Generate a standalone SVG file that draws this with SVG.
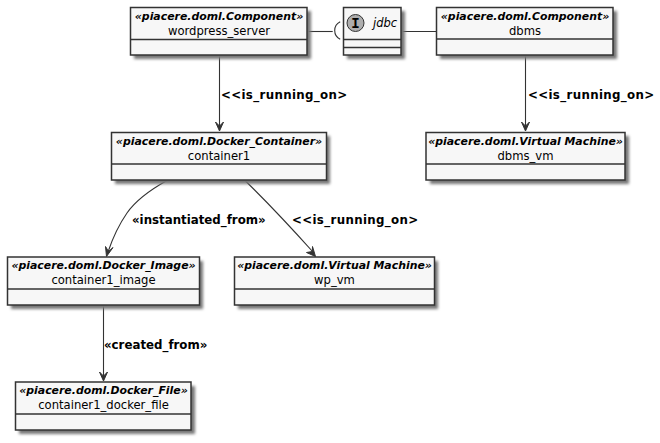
<svg xmlns="http://www.w3.org/2000/svg" width="660" height="443" viewBox="0 0 660 443">
<style>
text{font-family:"DejaVu Sans",sans-serif;fill:#000;text-anchor:middle}
.s{font-size:10.900px;font-weight:bold;font-style:italic}
.n{font-size:11.600px}
.l{font-size:11.800px;font-weight:bold;text-anchor:start}
.r{letter-spacing:.35px}
.b{fill:#f7f7f7;stroke:#333;stroke-width:1.5}
.sh{fill:#777;filter:url(#blur)}
.d{stroke:#333;stroke-width:1.5;fill:none}
.c{stroke:#333;stroke-width:1.100;fill:none}
.a{fill:#333;stroke:#333;stroke-width:1}
</style>
<defs><filter id="blur" x="-10%" y="-20%" width="120%" height="140%"><feGaussianBlur stdDeviation="1.6"/></filter></defs>
<rect width="660" height="443" fill="#fff"/>
<g id="connectors">
<path class="c" d="M307 31.500H332.700"/>
<path class="c" d="M340.200 21.700A9.800 9.800 0 0 0 340.200 39.300"/>
<path class="c" d="M401 31.500H436"/>
<path class="c" d="M219.500 55V127"/><path class="a" d="M219.500 131L215.500 122L219.500 126L223.500 122Z"/>
<path class="c" d="M525.500 55V127"/><path class="a" d="M525.500 131L521.500 122L525.500 126L529.500 122Z"/>
<path class="c" d="M167 180.500C150 190 136 200 127 213C118 226 112 240 108 252"/><path class="a" d="M106.500 256.500L105.500 246.500L108.500 251.500L113 247.500Z"/>
<path class="c" d="M245 180.500C265 200 295 232 313 252"/><path class="a" d="M315.500 256.500L306.500 252.500L312.300 251.500L312.500 246.500Z"/>
<path class="c" d="M103.500 305V377"/><path class="a" d="M103.500 381L99.500 372L103.500 376L107.500 372Z"/>
</g>
<g id="wordpress_server"><rect class="sh" x="134" y="11" width="177" height="48"/><rect class="b" x="130.500" y="7.500" width="176.500" height="47.500"/><path class="d" d="M130.500 39.500H307"/><text class="s" x="219" y="19.500">«piacere.doml.Component»</text><text class="n" x="219" y="34.500">wordpress_server</text></g>
<g id="jdbc"><rect class="sh" x="347" y="11" width="58" height="48"/><rect class="b" x="343.500" y="7.500" width="57.500" height="47.500"/><path class="d" d="M343.500 39.500H401M343.500 47.500H401"/><circle cx="355.500" cy="23" r="8.500" fill="#adadad" stroke="#333" stroke-width="1"/><text x="355.500" y="27.500" style="font-family:'Liberation Mono',monospace;font-size:14px;font-weight:bold">I</text><text x="385" y="27" style="font-size:11.500px;font-style:italic">jdbc</text></g>
<g id="dbms"><rect class="sh" x="440" y="11" width="177" height="48"/><rect class="b" x="436.500" y="7.500" width="176.500" height="47.500"/><path class="d" d="M436.500 39H613"/><text class="s" x="525" y="19.500">«piacere.doml.Component»</text><text class="n" x="525" y="34.500">dbms</text></g>
<g id="dbms_vm"><rect class="sh" x="430" y="136" width="199" height="48"/><rect class="b" x="426" y="132.500" width="199" height="47.500"/><path class="d" d="M426 164H625"/><text class="s" x="525.500" y="144.500">«piacere.doml.Virtual Machine»</text><text class="n" x="525.500" y="159.500">dbms_vm</text></g>
<g id="container1"><rect class="sh" x="115" y="136" width="215" height="48"/><rect class="b" x="111.500" y="132.500" width="215" height="47.500"/><path class="d" d="M111.500 164H326.500"/><text class="s" x="219" y="144.500">«piacere.doml.Docker_Container»</text><text class="n" x="219" y="159.500">container1</text></g>
<g id="container1_image"><rect class="sh" x="11" y="261" width="192" height="48"/><rect class="b" x="7.500" y="257" width="192" height="48"/><path class="d" d="M7.500 289H199.500"/><text class="s" x="103.500" y="269">«piacere.doml.Docker_Image»</text><text class="n" x="103.500" y="284">container1_image</text></g>
<g id="wp_vm"><rect class="sh" x="238" y="261" width="200" height="48"/><rect class="b" x="234.500" y="257" width="200" height="48"/><path class="d" d="M234.500 289H434.500"/><text class="s" x="334.500" y="269">«piacere.doml.Virtual Machine»</text><text class="n" x="334.500" y="284">wp_vm</text></g>
<g id="container1_docker_file"><rect class="sh" x="19" y="386" width="176" height="48"/><rect class="b" x="15.500" y="382" width="175.500" height="48"/><path class="d" d="M15.500 414H191"/><text class="s" x="103.500" y="394">«piacere.doml.Docker_File»</text><text class="n" x="103.500" y="409">container1_docker_file</text></g>
<g id="labels">
<text class="l r" x="221" y="99">&lt;&lt;is_running_on&gt;</text>
<text class="l r" x="528" y="99">&lt;&lt;is_running_on&gt;</text>
<text class="l" x="132" y="224">«instantiated_from»</text>
<text class="l r" x="292" y="224">&lt;&lt;is_running_on&gt;</text>
<text class="l" x="104" y="349">«created_from»</text>
</g>
</svg>
